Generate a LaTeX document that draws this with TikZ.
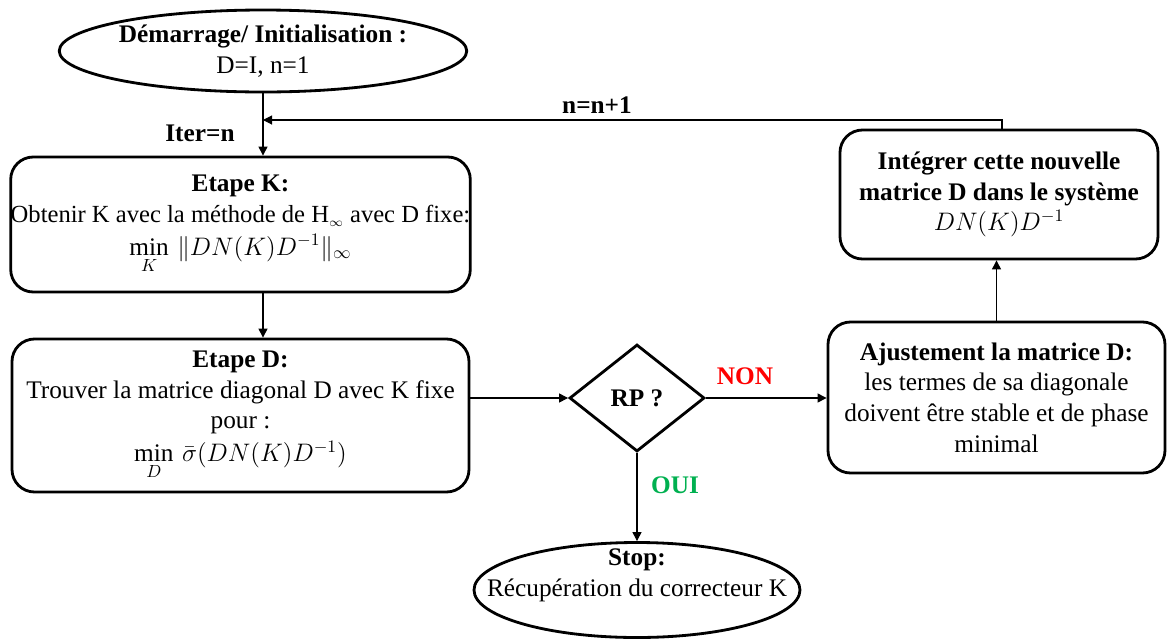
\documentclass[tikz,border=0pt]{standalone}
\usepackage{fontspec}
\setmainfont{Liberation Serif}
\usepackage{amsmath}
\usetikzlibrary{shapes.geometric,arrows.meta}

\begin{document}
\begin{tikzpicture}[
    font=\fontsize{14.4}{17.5}\selectfont,
    stepbox/.style={draw, line width=1.6pt, rounded corners=0.45cm, align=center, inner sep=0pt},
    termnode/.style={draw, ellipse, line width=1.6pt, inner sep=0pt},
    decision/.style={draw, diamond, line width=1.6pt, inner sep=0pt},
    arrowline/.style={-{Triangle[length=1.8mm,width=1.8mm]}, line width=0.6pt},
    lbl/.style={font=\fontsize{14.4}{17.5}\selectfont\bfseries}
]
\useasboundingbox (0,0) rectangle (23.34,-12.78);

% start
\node[termnode, minimum width=7cm, minimum height=1.64cm, align=center] (start) at (5.26,-1.02)
    {\textbf{Démarrage/ Initialisation :}\\D=I, n=1};

% step K
\node[stepbox, minimum width=9.14cm, minimum height=2.7cm] (kbox) at (4.81,-4.49)
    {\textbf{Etape K:}\\{\fontsize{14}{17.5}\selectfont Obtenir K avec la méthode de H$_{\scriptscriptstyle\infty}$ avec D fixe:}\\[1pt]
     $\min\limits_{K}\,\|DN(K)D^{-1}\|_\infty$};

% step D
\node[stepbox, minimum width=9.14cm, minimum height=3.06cm] (dbox) at (4.81,-8.31)
    {\textbf{Etape D:}\\Trouver la matrice diagonal D avec K fixe\\pour :\\[1pt]
     $\min\limits_{D}\,\bar{\sigma}(DN(K)D^{-1})$};

% test
\node[decision, minimum width=2.7cm, minimum height=2.14cm] (rp) at (12.74,-7.96) {\textbf{RP ?}};

% adjust D
\node[stepbox, minimum width=6.74cm, minimum height=3.02cm] (ajust) at (19.93,-7.95)
    {\textbf{Ajustement la matrice D:}\\les termes de sa diagonale\\doivent être stable et de phase\\minimal};

% new D in system
\node[stepbox, minimum width=6.36cm, minimum height=2.58cm] (integ) at (19.98,-3.89)
    {\textbf{Intégrer cette nouvelle}\\\textbf{matrice D dans le système}\\$DN(K)D^{-1}$};

% stop
\node[termnode, minimum width=6.52cm, minimum height=1.9cm] (stop) at (12.74,-11.8) {};
\node[align=center] (stoptxt) at ([yshift=0.3cm]stop.center)
    {\textbf{Stop:}\\Récupération du correcteur K};

% connectors
\coordinate (join) at (5.26,-2.4);
\draw[arrowline] (start.south) -- (start.south |- kbox.north);
\draw[arrowline] (start.south |- kbox.south) -- (start.south |- dbox.north);
\draw[arrowline] (dbox.east |- rp.west) -- (rp.west);
\draw[arrowline] (rp.east) -- (rp.east -| ajust.west);
\draw[arrowline] (rp.south) -- (stop.north);
\draw[arrowline] (ajust.north) -- (ajust.north |- integ.south);
\draw[arrowline] ([xshift=0.06cm]integ.north) |- (join);

% labels
\node[lbl] (iter) at (4.0,-2.66) {Iter=n};
\node[lbl] (incr) at (11.94,-2.1) {n=n+1};
\node[lbl, text={rgb,255:red,255;green,0;blue,0}] (non) at (14.9,-7.52) {NON};
\node[lbl, text={rgb,255:red,0;green,176;blue,80}] (oui) at (13.5,-9.7) {OUI};

\end{tikzpicture}
\end{document}
